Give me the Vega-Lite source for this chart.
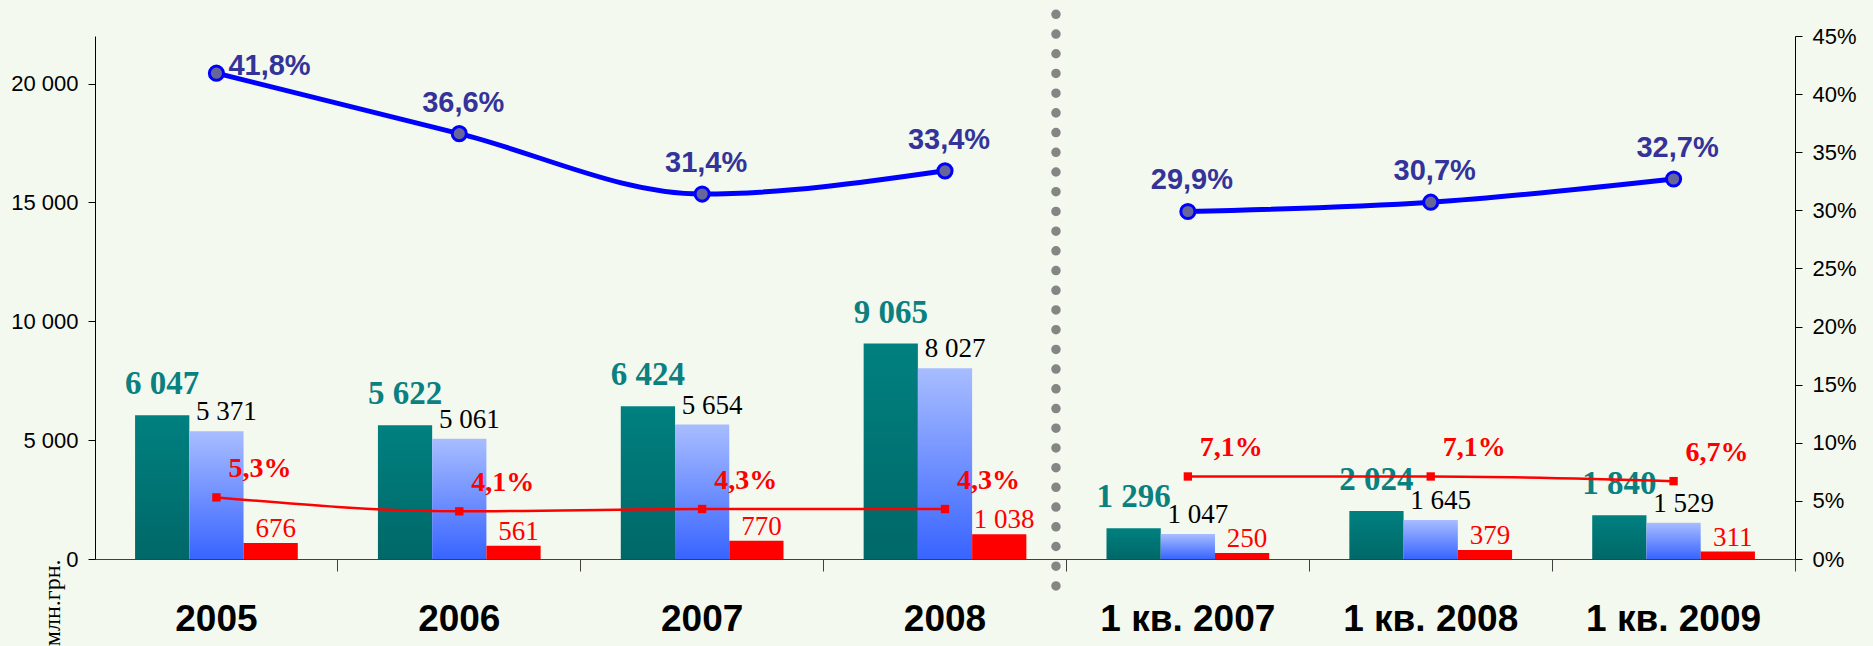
{
  "$schema": "https://vega.github.io/schema/vega-lite/v6.json",
  "width": 1700,
  "height": 523,
  "autosize": "none",
  "padding": {"left": 95, "top": 36, "right": 78, "bottom": 87},
  "background": "#f4f9ef",
  "config": {
    "view": {"stroke": null},
    "locale": {"number": {"decimal": ",", "thousands": " ", "grouping": [3], "currency": ["", ""]}}
  },
  "data": {
    "values": [
      {"cat": "2005", "grp": "y", "a": 6047, "b": 5371, "c": 676, "p1": 0.418, "p2": 0.053},
      {"cat": "2006", "grp": "y", "a": 5622, "b": 5061, "c": 561, "p1": 0.366, "p2": 0.041},
      {"cat": "2007", "grp": "y", "a": 6424, "b": 5654, "c": 770, "p1": 0.314, "p2": 0.043},
      {"cat": "2008", "grp": "y", "a": 9065, "b": 8027, "c": 1038, "p1": 0.334, "p2": 0.043},
      {"cat": "1 кв. 2007", "grp": "q", "a": 1296, "b": 1047, "c": 250, "p1": 0.299, "p2": 0.071},
      {"cat": "1 кв. 2008", "grp": "q", "a": 2024, "b": 1645, "c": 379, "p1": 0.307, "p2": 0.071},
      {"cat": "1 кв. 2009", "grp": "q", "a": 1840, "b": 1529, "c": 311, "p1": 0.327, "p2": 0.067}
    ]
  },
  "layer": [
    {
      "transform": [{"fold": ["a", "b", "c"], "as": ["series", "value"]}],
      "encoding": {
        "x": {
          "field": "cat", "type": "nominal", "sort": null,
          "scale": {"domain": ["2005", "2006", "2007", "2008", "1 кв. 2007", "1 кв. 2008", "1 кв. 2009"], "paddingInner": 0.33, "paddingOuter": 0.165},
          "axis": {
            "title": null, "labelAngle": 0, "labelFont": "Liberation Sans", "labelFontWeight": "bold",
            "labelFontSize": 37, "labelColor": "black", "bandPosition": 1.2463, "tickSize": 12,
            "labelPadding": 30, "domainColor": "#404040", "tickColor": "#404040", "grid": false
          }
        },
        "y": {
          "field": "value", "type": "quantitative",
          "scale": {"domain": [0, 22000], "nice": false},
          "axis": {
            "orient": "left", "values": [0, 5000, 10000, 15000, 20000], "format": ",d",
            "title": "млн.грн.", "titleFont": "Liberation Serif", "titleFontSize": 24, "titleFontWeight": "normal",
            "titleColor": "black", "titleAngle": 270, "titleAlign": "right", "titleBaseline": "alphabetic",
            "titleX": -36, "titleY": 523,
            "labelFont": "Liberation Sans", "labelFontSize": 22, "labelColor": "black",
            "tickSize": 7, "tickColor": "black", "domainColor": "black", "labelPadding": 10, "grid": false
          }
        }
      },
      "layer": [
        {
          "transform": [{"filter": "datum.series === 'a'"}],
          "mark": {"type": "bar", "color": {"gradient": "linear", "x1": 0, "y1": 0, "x2": 0, "y2": 1, "stops": [{"offset": 0, "color": "#008080"}, {"offset": 1, "color": "#006868"}]}},
          "encoding": {"xOffset": {"field": "series", "type": "nominal", "scale": {"domain": ["a", "b", "c"], "paddingInner": 0, "paddingOuter": 0}}}
        },
        {
          "transform": [{"filter": "datum.series === 'b'"}],
          "mark": {"type": "bar", "color": {"gradient": "linear", "x1": 0, "y1": 0, "x2": 0, "y2": 1, "stops": [{"offset": 0, "color": "#a8bdff"}, {"offset": 1, "color": "#3864ff"}]}},
          "encoding": {"xOffset": {"field": "series", "type": "nominal"}}
        },
        {
          "transform": [{"filter": "datum.series === 'c'"}],
          "mark": {"type": "bar", "color": "#ff0000"},
          "encoding": {"xOffset": {"field": "series", "type": "nominal"}}
        },
        {
          "transform": [{"filter": "datum.series === 'a'"}],
          "mark": {"type": "text", "font": "Liberation Serif", "fontWeight": "bold", "fontSize": 33, "color": "#0a8080", "align": "center", "baseline": "alphabetic", "dy": -21},
          "encoding": {"xOffset": {"field": "series", "type": "nominal"}, "text": {"field": "value", "format": ",d"}}
        },
        {
          "transform": [{"filter": "datum.series === 'b'"}],
          "mark": {"type": "text", "font": "Liberation Serif", "fontSize": 27, "color": "black", "align": "center", "baseline": "alphabetic", "dx": 10, "dy": -11},
          "encoding": {"xOffset": {"field": "series", "type": "nominal"}, "text": {"field": "value", "format": ",d"}}
        },
        {
          "transform": [{"filter": "datum.series === 'c'"}],
          "mark": {"type": "text", "font": "Liberation Serif", "fontSize": 27, "color": "#ff0000", "align": "center", "baseline": "alphabetic", "dx": 5, "dy": -6},
          "encoding": {"xOffset": {"field": "series", "type": "nominal"}, "text": {"field": "value", "format": ",d"}}
        }
      ]
    },
    {
      "transform": [{"fold": ["p1", "p2"], "as": ["ser", "pct"]}],
      "encoding": {
        "x": {"field": "cat", "type": "nominal", "sort": null},
        "y": {
          "field": "pct", "type": "quantitative",
          "scale": {"domain": [0, 0.45], "nice": false},
          "axis": {
            "orient": "right", "values": [0, 0.05, 0.1, 0.15, 0.2, 0.25, 0.3, 0.35, 0.4, 0.45], "format": ".0%",
            "title": null, "labelFont": "Liberation Sans", "labelFontSize": 22, "labelColor": "black",
            "tickSize": 7, "tickColor": "black", "domainColor": "black", "labelPadding": 10, "grid": false
          }
        }
      },
      "layer": [
        {
          "transform": [{"filter": "datum.ser === 'p1'"}],
          "mark": {"type": "line", "color": "#0000ff", "strokeWidth": 5, "interpolate": "monotone"},
          "encoding": {"detail": {"field": "grp"}}
        },
        {
          "transform": [{"filter": "datum.ser === 'p2'"}],
          "mark": {"type": "line", "color": "#ff0000", "strokeWidth": 2.5, "interpolate": "monotone"},
          "encoding": {"detail": {"field": "grp"}}
        },
        {
          "transform": [{"filter": "datum.ser === 'p1'"}],
          "mark": {"type": "point", "shape": "circle", "filled": true, "fill": "#666699", "stroke": "#0000ff", "strokeWidth": 3, "size": 200, "opacity": 1}
        },
        {
          "transform": [{"filter": "datum.ser === 'p2'"}],
          "mark": {"type": "point", "shape": "square", "filled": true, "color": "#ff0000", "size": 70, "opacity": 1}
        },
        {
          "transform": [{"filter": "datum.ser === 'p1' && datum.cat !== '2005'"}],
          "mark": {"type": "text", "font": "Liberation Sans", "fontWeight": "bold", "fontSize": 29, "color": "#333399", "align": "center", "baseline": "alphabetic", "dx": 4, "dy": -22},
          "encoding": {"text": {"field": "pct", "format": ".1%"}}
        },
        {
          "transform": [{"filter": "datum.ser === 'p1' && datum.cat === '2005'"}],
          "mark": {"type": "text", "font": "Liberation Sans", "fontWeight": "bold", "fontSize": 29, "color": "#333399", "align": "left", "baseline": "alphabetic", "dx": 12, "dy": 2},
          "encoding": {"text": {"field": "pct", "format": ".1%"}}
        },
        {
          "transform": [{"filter": "datum.ser === 'p2'"}],
          "mark": {"type": "text", "font": "Liberation Serif", "fontWeight": "bold", "fontSize": 28, "color": "#ff0000", "align": "left", "baseline": "alphabetic", "dx": 12, "dy": -20},
          "encoding": {"text": {"field": "pct", "format": ".1%"}}
        }
      ]
    },
    {
      "data": {"values": [{"sep": "2008 | 1 кв. 2007"}]},
      "mark": {"type": "rule", "color": "#858585", "strokeWidth": 9.5, "strokeDash": [0.01, 19.7], "strokeCap": "round"},
      "encoding": {
        "x": {"datum": "2008", "type": "nominal", "bandPosition": 1.182},
        "y": {"datum": 22912, "type": "quantitative", "scale": {"domain": [0, 22000], "nice": false}, "axis": null},
        "y2": {"datum": -1220}
      }
    }
  ],
  "resolve": {"scale": {"y": "independent"}, "axis": {"y": "independent"}}
}
